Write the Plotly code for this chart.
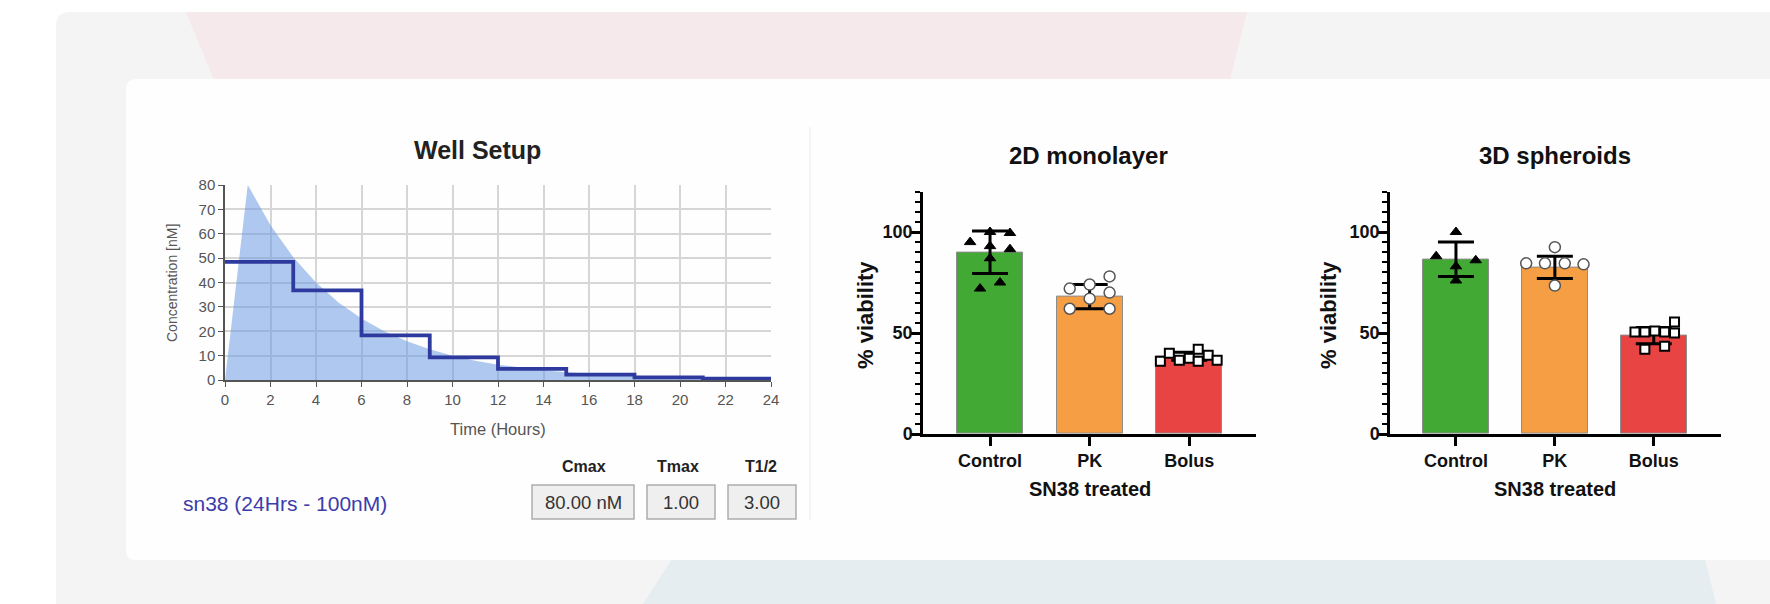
import plotly.graph_objects as go

# ---------------- data ----------------
hours = [0, 1, 2, 3, 4, 5, 6, 7, 8, 9, 10, 11, 12, 13, 14, 15, 16, 17, 18, 19, 20, 21, 22, 23, 24]
conc_curve = [0, 80, 63.5, 50.4, 40, 31.7, 25.2, 20, 15.9, 12.6, 10, 7.9, 6.3, 5, 4, 3.2, 2.5, 2, 1.6,
              1.3, 1, 0.8, 0.6, 0.5, 0.4]
step_hours = [0, 3, 6, 9, 12, 15, 18, 21, 24]
step_conc = [48.5, 36.8, 18.3, 9.3, 4.6, 2.2, 1.1, 0.6, 0.6]
x_ticks_hours = list(range(0, 25, 2))

table_headers = ["Cmax", "Tmax", "T1/2"]
table_values = ["80.00 nM", "1.00", "3.00"]
series_label = "sn38 (24Hrs - 100nM)"

categories = ["Control", "PK", "Bolus"]
mono_mean = [90, 68, 38.5]
mono_sd = [10.5, 6, 2]
sph_mean = [86.5, 82.5, 48.7]
sph_sd = [8.5, 5.5, 4]

mono_control = [95, 100, 99.5, 91.5, 93, 87, 72, 75]
mono_control_jit = [-0.2, 0, 0.2, 0.2, 0, 0, -0.1, 0.1]
mono_pk = [72, 78, 70, 62, 62, 74, 67]
mono_pk_jit = [-0.2, 0.2, 0.2, -0.2, 0.2, 0, 0]
mono_bolus = [36, 40, 36.5, 37.5, 42, 36, 39, 36.5]
mono_bolus_jit = [-0.29, -0.2, -0.1, 0, 0.09, 0.09, 0.19, 0.28]

sph_control = [100, 88, 86, 83, 76]
sph_control_jit = [0, -0.2, 0.2, 0, 0]
sph_pk = [84.5, 84.5, 84.5, 84, 92.5, 73.5]
sph_pk_jit = [-0.29, -0.1, 0.1, 0.29, 0, 0]
sph_bolus = [50.5, 50.5, 51, 50.5, 55.5, 50, 42, 43.5]
sph_bolus_jit = [-0.19, -0.09, 0.01, 0.11, 0.21, 0.21, -0.09, 0.11]

# ---------------- helpers ----------------
W, H = 1770, 604
def px(x):
    return x / W
def py(y):
    return 1 - y / H

FONT = "Liberation Sans"
bar_colors = ["#43a935", "#f59e43", "#e84444"]

fig = go.Figure()

# ---- Well setup chart ----
fig.add_trace(go.Scatter(x=hours, y=conc_curve, mode="lines", line=dict(width=0, color="rgba(0,0,0,0)"),
                         fill="tozeroy", fillcolor="rgba(110,155,225,0.55)", xaxis="x", yaxis="y",
                         hoverinfo="skip", showlegend=False))
fig.add_trace(go.Scatter(x=step_hours, y=step_conc, mode="lines", line=dict(width=3.8, color="#2e3a9e", shape="hv"),
                         xaxis="x", yaxis="y", showlegend=False))

# ---- bar charts ----
def add_bar_panel(means, sds, groups, xa, ya):
    fig.add_trace(go.Bar(x=[0, 1, 2], y=means, width=0.663,
                         marker=dict(color=bar_colors, line=dict(color="#8c8c8c", width=1)),
                         error_y=dict(type="data", array=sds, color="black", thickness=3, width=18),
                         xaxis=xa, yaxis=ya, showlegend=False))
    styles = [
        dict(symbol="triangle-up", size=10, color="black", line=dict(color="black", width=1)),
        dict(symbol="circle", size=11, color="white", line=dict(color="#555555", width=1.5)),
        dict(symbol="square", size=9, color="white", line=dict(color="black", width=2)),
    ]
    for i, (vals, jit) in enumerate(groups):
        fig.add_trace(go.Scatter(x=[i + j for j in jit], y=vals, mode="markers", marker=styles[i],
                                 xaxis=xa, yaxis=ya, showlegend=False))

add_bar_panel(mono_mean, mono_sd,
              [(mono_control, mono_control_jit), (mono_pk, mono_pk_jit), (mono_bolus, mono_bolus_jit)], "x2", "y2")
add_bar_panel(sph_mean, sph_sd,
              [(sph_control, sph_control_jit), (sph_pk, sph_pk_jit), (sph_bolus, sph_bolus_jit)], "x3", "y3")

# ---------------- background shapes ----------------
def poly_path(pts):
    return "M " + " L ".join(f"{px(x)},{py(y)}" for x, y in pts) + " Z"

shapes = []
r = 14
outer = (f"M {px(56)},{py(604)} L {px(56)},{py(12 + r)} Q {px(56)},{py(12)} {px(56 + r)},{py(12)} "
         f"L {px(1770)},{py(12)} L {px(1770)},{py(604)} Z")
shapes.append(dict(type="path", path=outer, xref="paper", yref="paper", fillcolor="#f4f4f4",
                   line=dict(width=0), layer="below"))
shapes.append(dict(type="path", path=poly_path([(186, 12), (1247, 12), (1230, 80), (214, 80)]),
                   xref="paper", yref="paper", fillcolor="#f5e9eb", line=dict(width=0), layer="below"))
shapes.append(dict(type="path", path=poly_path([(672, 559), (1705, 559), (1716, 604), (643, 604)]),
                   xref="paper", yref="paper", fillcolor="#e5edf0", line=dict(width=0), layer="below"))
rc = 10
card = (f"M {px(126)},{py(560 - rc)} L {px(126)},{py(79 + rc)} Q {px(126)},{py(79)} {px(126 + rc)},{py(79)} "
        f"L {px(1770)},{py(79)} L {px(1770)},{py(560)} L {px(126 + rc)},{py(560)} "
        f"Q {px(126)},{py(560)} {px(126)},{py(560 - rc)} Z")
shapes.append(dict(type="path", path=card, xref="paper", yref="paper", fillcolor="#fefefe",
                   line=dict(width=0), layer="below"))
shapes.append(dict(type="line", x0=px(810), x1=px(810), y0=py(127), y1=py(520), xref="paper", yref="paper",
                   line=dict(color="#ececec", width=1), layer="below"))
box_x = [(532, 634), (647, 715), (728, 796)]
for (x0, x1) in box_x:
    shapes.append(dict(type="rect", x0=px(x0), x1=px(x1), y0=py(519), y1=py(485), xref="paper", yref="paper",
                       fillcolor="#efefef", line=dict(color="#adadad", width=1.5), layer="below"))

# ---------------- annotations ----------------
ann = []
def text(x, y, s, size, color="#111", bold=False, angle=0, xanchor="center", family=FONT):
    ann.append(dict(x=px(x), y=py(y), xref="paper", yref="paper", text=s, showarrow=False,
                    xanchor=xanchor, yanchor="middle", textangle=angle,
                    font=dict(family=family, size=size, color=color, weight="bold" if bold else "normal")))

text(477, 150, "Well Setup", 25, "#222", bold=True)
text(498, 429, "Time (Hours)", 16.5, "#555")
text(172, 283, "Concentration [nM]", 14, "#555", angle=-90)
header_x = [584, 678, 761]
for hx, h in zip(header_x, table_headers):
    text(hx, 466, h, 16, "#222", bold=True)
for (x0, x1), v in zip(box_x, table_values):
    text((x0 + x1) / 2, 502, v, 18.5, "#333")
text(181, 503, series_label, 21, "#3c3caa", xanchor="left")

text(1088, 155, "2D monolayer", 24, "#111", bold=True)
text(1555, 155, "3D spheroids", 24, "#111", bold=True)
text(1090, 489, "SN38 treated", 20, "#111", bold=True)
text(1555, 489, "SN38 treated", 20, "#111", bold=True)
text(865, 315, "% viability", 22, "#111", bold=True, angle=-90)
text(1328, 315, "% viability", 22, "#111", bold=True, angle=-90)

# ---------------- axes ----------------
ws_tick = dict(family=FONT, size=15, color="#555")
ws_x = dict(domain=[px(225), px(771)], range=[0, 24], tickvals=x_ticks_hours, showgrid=True, gridcolor="#d6d6d6",
            gridwidth=2, showline=True, linecolor="#555", linewidth=1.5, ticks="outside", ticklen=5,
            tickcolor="#555", tickfont=ws_tick, zeroline=False, anchor="y", fixedrange=True, automargin=False)
ws_y = dict(domain=[py(380), py(185)], range=[0, 80], dtick=10, showgrid=True, gridcolor="#d6d6d6", gridwidth=2,
            showline=True, linecolor="#555", linewidth=1.5, ticks="outside", ticklen=5, tickcolor="#555",
            tickfont=ws_tick, zeroline=False, anchor="x", fixedrange=True, automargin=False)

bar_tick = dict(family=FONT, size=18, color="#111", weight="bold")
def bar_x(x0, x1, rng, anchor):
    return dict(domain=[px(x0), px(x1)], range=rng, tickvals=[0, 1, 2], ticktext=categories,
                showgrid=False, zeroline=False, showline=True, linecolor="black", linewidth=2.5,
                ticks="outside", ticklen=9, tickwidth=2.5, tickcolor="black", tickfont=bar_tick,
                fixedrange=True, automargin=False, anchor=anchor)
def bar_y(anchor):
    return dict(domain=[py(434), py(191.6)], range=[0, 120], tickvals=[0, 50, 100], showgrid=False,
                zeroline=False, showline=True, linecolor="black", linewidth=2.5, ticks="outside", ticklen=9,
                tickwidth=2.5, tickcolor="black", tickfont=bar_tick, anchor=anchor, fixedrange=True,
                automargin=False, ticklabelstandoff=-5,
                minor=dict(ticks="outside", ticklen=5, tickwidth=1.5, dtick=5, tickcolor="black"))

fig.update_layout(
    width=W, height=H, margin=dict(l=0, r=0, t=0, b=0, pad=0, autoexpand=False),
    paper_bgcolor="white", plot_bgcolor="rgba(0,0,0,0)",
    xaxis=ws_x, yaxis=ws_y,
    xaxis2=bar_x(923, 1256, [-0.673, 2.67], "y2"), yaxis2=bar_y("x2"),
    xaxis3=bar_x(1390, 1721, [-0.667, 2.68], "y3"), yaxis3=bar_y("x3"),
    shapes=shapes, annotations=ann, showlegend=False, bargap=0,
)

fig.write_html("out.html", config={"displayModeBar": False},
               post_script="document.body.style.margin='0';document.body.style.padding='0';"
                           "document.body.style.overflow='hidden';")
